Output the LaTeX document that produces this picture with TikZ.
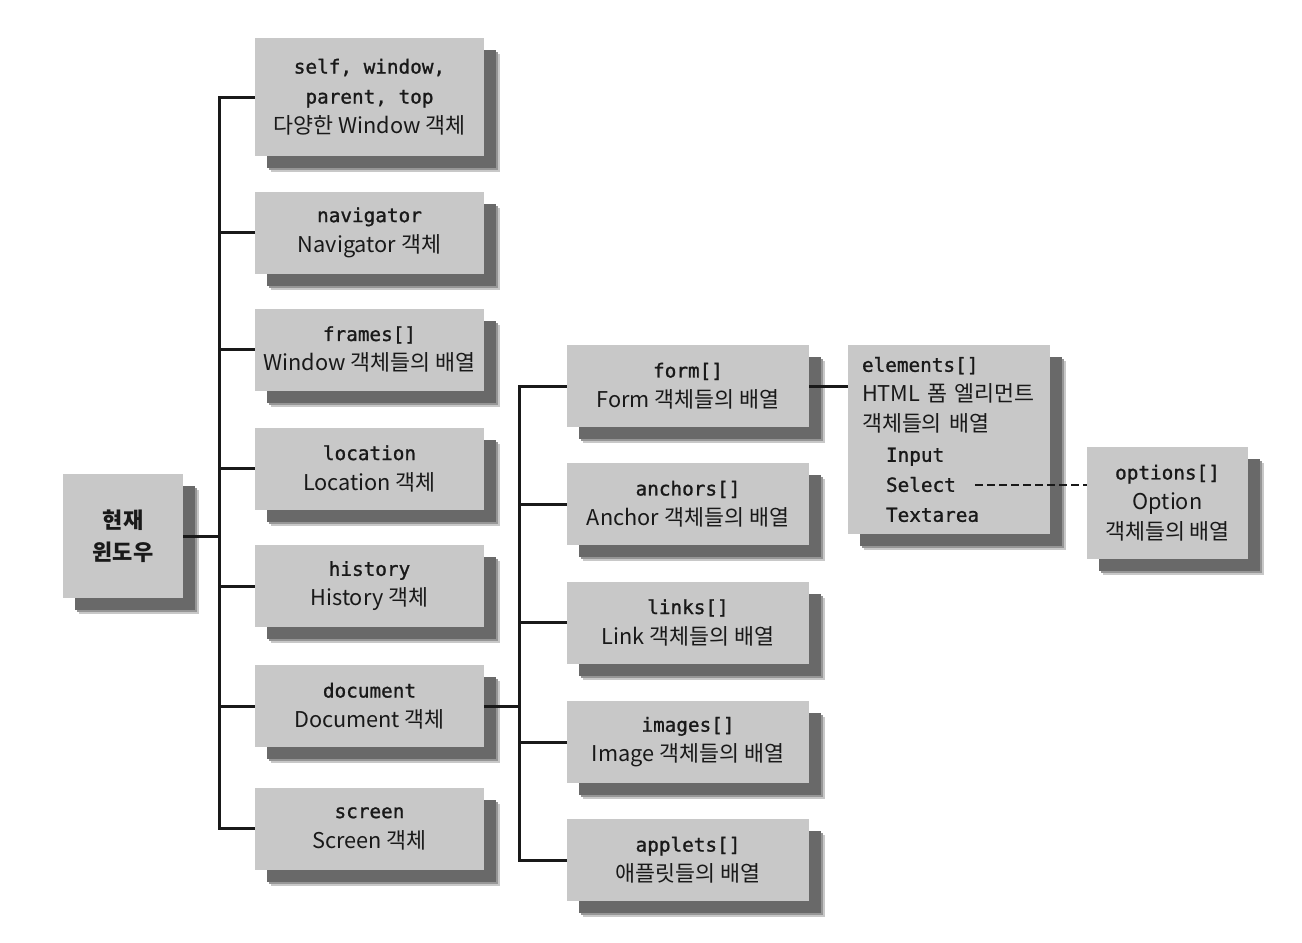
\documentclass[tikz,border=0pt]{standalone}
\usepackage{fontspec}
\setmainfont{Noto Sans CJK KR}
\newfontfamily\mono[FakeBold=1.2]{DejaVu Sans Mono}
\usetikzlibrary{shadows}
\definecolor{boxgray}{RGB}{200,200,200}
\definecolor{shA}{RGB}{200,200,200}
\definecolor{shB}{RGB}{150,150,150}
\definecolor{shC}{RGB}{105,105,105}
\definecolor{ink}{RGB}{25,25,25}
\newcommand\cd[1]{{\fontsize{14.5}{22.5}\mono #1}}
\tikzset{
  box/.style={fill=boxgray, inner sep=0pt, align=center, text=ink,
    font=\fontsize{16.3}{22.5}\selectfont,
    general shadow={fill=shA, shadow xshift=12pt, shadow yshift=-12pt},
    general shadow={fill=shB, shadow xshift=10.5pt, shadow yshift=-10.5pt},
    general shadow={fill=shC, shadow xshift=9pt, shadow yshift=-9pt}},
  lbox/.style={box, minimum width=171.75pt, minimum height=61.5pt},
  mbox/.style={box, minimum width=181.5pt, minimum height=61.5pt},
  conn/.style={line width=2.25pt, draw=ink},
  dconn/.style={line width=2.2pt, draw=ink, dash pattern=on 6pt off 3pt},
}
\begin{document}
\begin{tikzpicture}[x=0.75pt, y=-0.75pt]
\fill[white] (0,0) rectangle (1302,942);
\useasboundingbox (0,0) rectangle (1302,942);
% root
\node[box, minimum width=90pt, minimum height=93pt, font=\fontsize{16.5}{24}\selectfont\bfseries] (root) at (123,536) {현재\\윈도우};
% first column
\node[lbox, minimum height=88.5pt] (win) at (369.5,97) {\cd{self, window,}\\\cd{parent, top}\\다양한 Window 객체};
\node[lbox] (nav) at (369.5,232.5) {\cd{navigator}\\Navigator 객체};
\node[lbox] (frm) at (369.5,349.5) {\cd{frames[]}\\Window 객체들의 배열};
\node[lbox] (loc) at (369.5,468.5) {\cd{location}\\Location 객체};
\node[lbox] (his) at (369.5,586) {\cd{history}\\History 객체};
\node[lbox] (doc) at (369.5,706) {\cd{document}\\Document 객체};
\node[lbox] (scr) at (369.5,828.5) {\cd{screen}\\Screen 객체};
% second column
\node[mbox] (form) at (688,386) {\cd{form[]}\\Form 객체들의 배열};
\node[mbox] (anc) at (688,504) {\cd{anchors[]}\\Anchor 객체들의 배열};
\node[mbox] (lnk) at (688,622.5) {\cd{links[]}\\Link 객체들의 배열};
\node[mbox] (img) at (688,742) {\cd{images[]}\\Image 객체들의 배열};
\node[mbox] (app) at (688,860) {\cd{applets[]}\\애플릿들의 배열};
% elements and options
\node[box, align=left, minimum width=151.5pt, minimum height=141.75pt, text width=130.5pt] (elm) at (949,439.5)
  {\cd{elements[]}\\HTML 폼 엘리먼트\\객체들의 배열\\\hspace*{18pt}\cd{Input}\\\hspace*{18pt}\cd{Select}\\\hspace*{18pt}\cd{Textarea}};
\node[box, minimum width=120.75pt, minimum height=84pt] (opt) at (1167.5,503) {\cd{options[]}\\Option\\객체들의 배열};
% trunks
\coordinate (t1) at (219,0);
\coordinate (t2) at (519,0);
\coordinate (sel) at (975,485);
\foreach \n in {win,nav,frm,loc,his,doc,scr}
  \draw[conn] (root.east) -- (root.east -| t1) |- (\n.west);
\foreach \n in {form,anc,lnk,img,app}
  \draw[conn] (doc.east) -- (doc.east -| t2) |- (\n.west);
\draw[conn] (form.east) -- (form.east -| elm.west);
\draw[dconn] (sel) -- (sel -| opt.west);
\end{tikzpicture}
\end{document}
